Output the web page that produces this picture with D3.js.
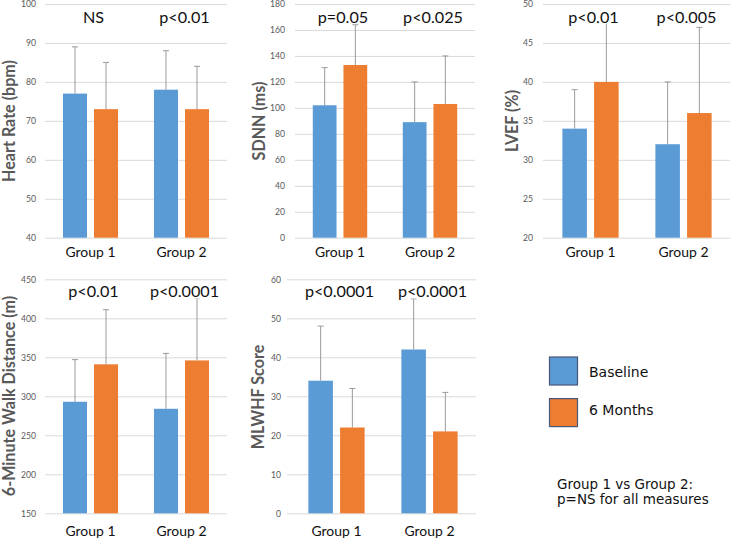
<!DOCTYPE html>
<html><head><meta charset="utf-8">
<script src="https://cdn.jsdelivr.net/npm/d3@7"></script>
<style>
html,body{margin:0;padding:0;background:#fff;}
svg{display:block;}
</style></head>
<body>
<svg id="chart" width="731" height="540"></svg>
<script>
// ---- data ----
const groups = ["Group 1", "Group 2"];
const seriesNames = ["Baseline", "6 Months"];
const seriesColors = ["#5B9BD5", "#ED7D31"];

const hrBaseline = [77, 78];
const hrBaselineSD = [12, 10];
const hr6m = [73, 73];
const hr6mSD = [12, 11];
const hrP = ["NS", "p<0.01"];
const hrTicks = [40, 50, 60, 70, 80, 90, 100];

const sdnnBaseline = [102, 89];
const sdnnBaselineSD = [29, 31];
const sdnn6m = [133, 103];
const sdnn6mSD = [31, 37];
const sdnnP = ["p=0.05", "p<0.025"];
const sdnnTicks = [0, 20, 40, 60, 80, 100, 120, 140, 160, 180];

const lvefBaseline = [34, 32];
const lvefBaselineSD = [5, 8];
const lvef6m = [40, 36];
const lvef6mSD = [8, 11];
const lvefP = ["p<0.01", "p<0.005"];
const lvefTicks = [20, 25, 30, 35, 40, 45, 50];

const walkBaseline = [293, 284];
const walkBaselineSD = [54, 71];
const walk6m = [341, 346];
const walk6mSD = [70, 80];
const walkP = ["p<0.01", "p<0.0001"];
const walkTicks = [150, 200, 250, 300, 350, 400, 450];

const mlBaseline = [34, 42];
const mlBaselineSD = [14, 13];
const ml6m = [22, 21];
const ml6mSD = [10, 10];
const mlP = ["p<0.0001", "p<0.0001"];
const mlTicks = [0, 10, 20, 30, 40, 50, 60];

const noteLines = ["Group 1 vs Group 2:", "p=NS for all measures"];

// ---- panels (layout) ----
const panels = [
  {label: "Heart Rate (bpm)", base: hrBaseline, baseSD: hrBaselineSD, post: hr6m, postSD: hr6mSD, p: hrP, ticks: hrTicks,
   x0: 45, x1: 227, y0: 4, y1: 237.7, gx0: 45, labelX: 9.5, labelY: 121, catPad: 9, pY: 17, tickRight: 36},
  {label: "SDNN (ms)", base: sdnnBaseline, baseSD: sdnnBaselineSD, post: sdnn6m, postSD: sdnn6mSD, p: sdnnP, ticks: sdnnTicks,
   x0: 295, x1: 475, y0: 4, y1: 237.7, gx0: 295, labelX: 259, labelY: 121, catPad: 9, pY: 17, tickRight: 285},
  {label: "LVEF (%)", base: lvefBaseline, baseSD: lvefBaselineSD, post: lvef6m, postSD: lvef6mSD, p: lvefP, ticks: lvefTicks,
   x0: 544, x1: 730, y0: 4, y1: 237.7, gx0: 543, labelX: 512.5, labelY: 121, catPad: 9, pY: 17, tickRight: 533},
  {label: "6-Minute Walk Distance (m)", base: walkBaseline, baseSD: walkBaselineSD, post: walk6m, postSD: walk6mSD, p: walkP, ticks: walkTicks,
   x0: 45, x1: 227, y0: 279.3, y1: 513.3, gx0: 45, labelX: 9.5, labelY: 396, catPad: 13, pY: 291.7, tickRight: 36},
  {label: "MLWHF Score", base: mlBaseline, baseSD: mlBaselineSD, post: ml6m, postSD: ml6mSD, p: mlP, ticks: mlTicks,
   x0: 290, x1: 476, y0: 279.3, y1: 513.3, gx0: 287, labelX: 258.5, labelY: 397, catPad: 13, pY: 291.7, tickRight: 281}
];

const svg = d3.select("#chart");
const FONT = "Lato, 'Open Sans', sans-serif";

// fit a font size so that a sample string has a target width
function fitSize(sample, target, weight) {
  const t = svg.append("text").style("font-family", FONT).style("font-size", "20px")
    .style("font-weight", weight || 400).text(sample);
  const w = t.node().getComputedTextLength();
  t.remove();
  return 20 * target / w;
}
const titleSize = fitSize("Heart Rate (bpm)", 122, 700);
const catSize = fitSize("Group 1", 50, 400);
const pSize = fitSize("p<0.01", 50.5, 400);
const tickSize = fitSize("100", 15, 400);

panels.forEach(P => {
  const g = svg.append("g");
  const y = d3.scaleLinear().domain([P.ticks[0], P.ticks[P.ticks.length - 1]]).range([P.y1, P.y0]);
  const x0 = d3.scaleBand().domain(groups).range([P.x0, P.x1]).padding(0);
  const x1 = d3.scaleBand().domain(seriesNames).range([0, x0.bandwidth()]).paddingInner(0.226).paddingOuter(0.58);

  // gridlines + tick labels
  const yAxis = d3.axisLeft(y).tickValues(P.ticks).tickSize(-(P.x1 - P.gx0)).tickPadding(P.gx0 - P.tickRight).tickFormat(d3.format("d"));
  const ga = g.append("g").attr("transform", `translate(${P.gx0},0)`).call(yAxis);
  ga.select(".domain").remove();
  ga.selectAll(".tick line").attr("stroke", "#d9d9d9").attr("stroke-width", 1);
  ga.selectAll(".tick text").attr("fill", "#595959").style("font-family", FONT).style("font-size", tickSize + "px");

  // category labels
  const xAxis = d3.axisBottom(x0).tickSize(0).tickPadding(P.catPad);
  const gx = g.append("g").attr("transform", `translate(0,${P.y1})`).call(xAxis);
  gx.select(".domain").remove();
  gx.selectAll(".tick text").attr("fill", "#111").style("font-family", FONT).style("font-size", catSize + "px");

  const rows = groups.map((grp, i) => [
    {grp, s: seriesNames[0], v: P.base[i], sd: P.baseSD[i], c: seriesColors[0]},
    {grp, s: seriesNames[1], v: P.post[i], sd: P.postSD[i], c: seriesColors[1]}
  ]).flat();

  // bars
  g.selectAll("rect.bar").data(rows).join("rect").attr("class", "bar")
    .attr("x", d => x0(d.grp) + x1(d.s))
    .attr("width", x1.bandwidth())
    .attr("y", d => y(d.v))
    .attr("height", d => y.range()[0] - y(d.v))
    .attr("fill", d => d.c);

  // error bars (upper only)
  const eb = g.selectAll("g.err").data(rows).join("g").attr("class", "err");
  const cx = d => x0(d.grp) + x1(d.s) + x1.bandwidth() / 2;
  eb.append("line")
    .attr("x1", cx).attr("x2", cx)
    .attr("y1", d => y(d.v)).attr("y2", d => y(d.v + d.sd))
    .attr("stroke", "#9a9a9a").attr("stroke-width", 1);
  eb.append("line")
    .attr("x1", d => cx(d) - 3).attr("x2", d => cx(d) + 3)
    .attr("y1", d => y(d.v + d.sd)).attr("y2", d => y(d.v + d.sd))
    .attr("stroke", "#9a9a9a").attr("stroke-width", 1);

  // p-value labels
  groups.forEach((grp, i) => {
    const t = g.append("text")
      .attr("x", x0(grp) + x0.bandwidth() / 2 + 3)
      .attr("y", P.pY)
      .attr("dy", "0.35em")
      .attr("text-anchor", "middle")
      .attr("fill", "#111")
      .style("font-family", FONT).style("font-size", pSize + "px")
      .text(P.p[i]);
    const bb = t.node().getBBox();
    g.insert("rect", () => t.node())
      .attr("x", bb.x).attr("y", bb.y + 2).attr("width", bb.width).attr("height", bb.height - 4)
      .attr("fill", "#fff");
  });

  // y-axis title
  g.append("text")
    .attr("transform", `translate(${P.labelX},${P.labelY}) rotate(-90)`)
    .attr("text-anchor", "middle").attr("dy", "0.35em")
    .attr("fill", "#595959")
    .style("font-family", FONT).style("font-size", titleSize + "px").style("font-weight", 700)
    .text(P.label);
});

// legend
const LFONT = "'DejaVu Sans', sans-serif";
const leg = svg.append("g");
const legTextY = [377.3, 415];
seriesNames.forEach((s, i) => {
  leg.append("rect")
    .attr("x", 549.5).attr("y", 357 + i * 41.6).attr("width", 28).attr("height", 28)
    .attr("fill", seriesColors[i]).attr("stroke", "#4a5878").attr("stroke-width", 1.2);
  leg.append("text")
    .attr("x", 589).attr("y", legTextY[i])
    .attr("fill", "#111").style("font-family", LFONT).style("font-size", "14px")
    .text(s);
});

noteLines.forEach((t, i) => {
  svg.append("text")
    .attr("x", 557).attr("y", 489 + i * 14.5)
    .attr("fill", "#111").style("font-family", LFONT).style("font-size", "13.5px")
    .text(t);
});
</script>
</body></html>
